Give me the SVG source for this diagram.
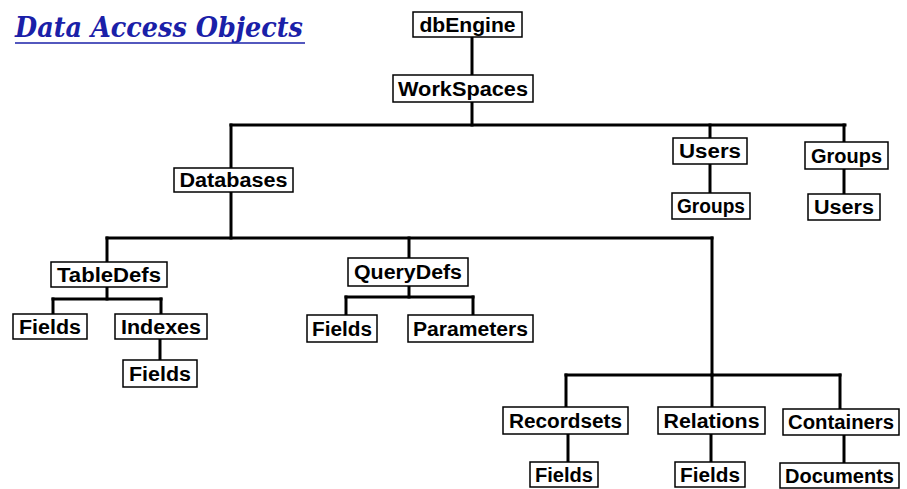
<svg xmlns="http://www.w3.org/2000/svg" width="907" height="489" viewBox="0 0 907 489">
<style>
.b{fill:#fff;stroke:#000;stroke-width:1.5}
.t{font-family:"Liberation Sans",Arial,sans-serif;font-weight:bold;font-size:20px;fill:#000;text-anchor:middle}
.c line{stroke:#000;stroke-width:3;stroke-linecap:square}
</style>
<rect width="907" height="489" fill="#fff"/>
<g id="title">
<text x="15" y="37" font-family="'DejaVu Serif',serif" font-weight="bold" font-style="italic" font-size="27" fill="#1a20a8" textLength="288" lengthAdjust="spacingAndGlyphs">Data Access Objects</text>
<line x1="15" y1="43" x2="305" y2="43" stroke="#1a20a8" stroke-width="1.5"/>
</g>
<g class="c" id="connectors">
<line x1="472" y1="37" x2="472" y2="75"/>
<line x1="472" y1="102" x2="472" y2="125"/>
<line x1="231" y1="125" x2="845" y2="125"/>
<line x1="231" y1="125" x2="231" y2="168"/>
<line x1="231" y1="192" x2="231" y2="238"/>
<line x1="710" y1="125" x2="710" y2="138"/>
<line x1="710" y1="164" x2="710" y2="193"/>
<line x1="844" y1="125" x2="844" y2="142"/>
<line x1="844" y1="169" x2="844" y2="194"/>
<line x1="107" y1="238" x2="712" y2="238"/>
<line x1="107" y1="238" x2="107" y2="262"/>
<line x1="409" y1="238" x2="409" y2="258"/>
<line x1="712" y1="238" x2="712" y2="375"/>
<line x1="107" y1="287" x2="107" y2="299"/>
<line x1="53" y1="299" x2="161" y2="299"/>
<line x1="53" y1="299" x2="53" y2="314"/>
<line x1="161" y1="299" x2="161" y2="314"/>
<line x1="160" y1="339" x2="160" y2="360"/>
<line x1="409" y1="286" x2="409" y2="297"/>
<line x1="346" y1="297" x2="473" y2="297"/>
<line x1="346" y1="297" x2="346" y2="315"/>
<line x1="473" y1="297" x2="473" y2="315"/>
<line x1="566" y1="375" x2="840" y2="375"/>
<line x1="566" y1="375" x2="566" y2="407"/>
<line x1="712" y1="375" x2="712" y2="407"/>
<line x1="840" y1="375" x2="840" y2="409"/>
<line x1="568" y1="434" x2="568" y2="462"/>
<line x1="711" y1="434" x2="711" y2="462"/>
<line x1="844" y1="435" x2="844" y2="463"/>
</g>
<g id="dbEngine"><rect class="b" x="413" y="12" width="109" height="25"/><text class="t" x="467.5" y="32" textLength="96" lengthAdjust="spacingAndGlyphs">dbEngine</text></g>
<g id="WorkSpaces"><rect class="b" x="393" y="75" width="140" height="27"/><text class="t" x="463" y="96" textLength="130" lengthAdjust="spacingAndGlyphs">WorkSpaces</text></g>
<g id="Databases"><rect class="b" x="174" y="168" width="119" height="24"/><text class="t" x="233.5" y="187" textLength="108" lengthAdjust="spacingAndGlyphs">Databases</text></g>
<g id="Users"><rect class="b" x="673" y="138" width="74" height="26"/><text class="t" x="710" y="158" textLength="62" lengthAdjust="spacingAndGlyphs">Users</text></g>
<g id="Groups"><rect class="b" x="805" y="142" width="83" height="27"/><text class="t" x="846.5" y="163" textLength="71" lengthAdjust="spacingAndGlyphs">Groups</text></g>
<g id="Users_Groups"><rect class="b" x="672" y="193" width="78" height="26"/><text class="t" x="711" y="213" textLength="68" lengthAdjust="spacingAndGlyphs">Groups</text></g>
<g id="Groups_Users"><rect class="b" x="808" y="194" width="72" height="26"/><text class="t" x="844" y="214" textLength="60" lengthAdjust="spacingAndGlyphs">Users</text></g>
<g id="TableDefs"><rect class="b" x="51" y="262" width="116" height="25"/><text class="t" x="109" y="282" textLength="104" lengthAdjust="spacingAndGlyphs">TableDefs</text></g>
<g id="QueryDefs"><rect class="b" x="348" y="258" width="120" height="28"/><text class="t" x="408" y="279" textLength="108" lengthAdjust="spacingAndGlyphs">QueryDefs</text></g>
<g id="TableDefs_Fields"><rect class="b" x="13" y="314" width="74" height="25"/><text class="t" x="50" y="334" textLength="62" lengthAdjust="spacingAndGlyphs">Fields</text></g>
<g id="Indexes"><rect class="b" x="115" y="314" width="92" height="25"/><text class="t" x="161" y="334" textLength="80" lengthAdjust="spacingAndGlyphs">Indexes</text></g>
<g id="Indexes_Fields"><rect class="b" x="123" y="360" width="74" height="27"/><text class="t" x="160" y="381" textLength="62" lengthAdjust="spacingAndGlyphs">Fields</text></g>
<g id="QueryDefs_Fields"><rect class="b" x="307" y="315" width="70" height="27"/><text class="t" x="342" y="336" textLength="60" lengthAdjust="spacingAndGlyphs">Fields</text></g>
<g id="Parameters"><rect class="b" x="408" y="315" width="125" height="27"/><text class="t" x="470.5" y="336" textLength="115" lengthAdjust="spacingAndGlyphs">Parameters</text></g>
<g id="Recordsets"><rect class="b" x="503" y="407" width="125" height="27"/><text class="t" x="565.5" y="428" textLength="113" lengthAdjust="spacingAndGlyphs">Recordsets</text></g>
<g id="Relations"><rect class="b" x="658" y="407" width="107" height="27"/><text class="t" x="711.5" y="428" textLength="96" lengthAdjust="spacingAndGlyphs">Relations</text></g>
<g id="Containers"><rect class="b" x="783" y="409" width="116" height="26"/><text class="t" x="841" y="429" textLength="106" lengthAdjust="spacingAndGlyphs">Containers</text></g>
<g id="Recordsets_Fields"><rect class="b" x="530" y="462" width="68" height="25"/><text class="t" x="564" y="482" textLength="58" lengthAdjust="spacingAndGlyphs">Fields</text></g>
<g id="Relations_Fields"><rect class="b" x="675" y="462" width="70" height="25"/><text class="t" x="710" y="482" textLength="60" lengthAdjust="spacingAndGlyphs">Fields</text></g>
<g id="Documents"><rect class="b" x="780" y="463" width="119" height="25"/><text class="t" x="839.5" y="483" textLength="109" lengthAdjust="spacingAndGlyphs">Documents</text></g>
</svg>
